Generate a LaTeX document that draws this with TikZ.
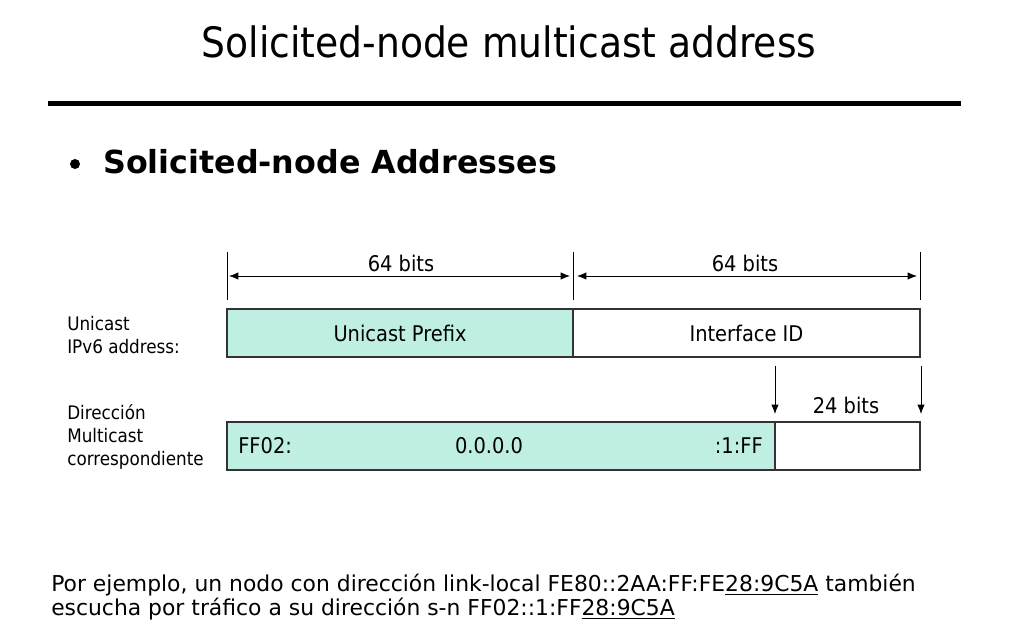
\documentclass[tikz,border=0pt]{standalone}
\usepackage{fontspec}
\setmainfont{DejaVu Sans}
\newfontfamily\tah{DejaVu Sans Condensed}
\usetikzlibrary{arrows.meta}
\definecolor{tealfill}{RGB}{190,239,226}
\begin{document}
\begin{tikzpicture}[x=0.75pt,y=-0.75pt,
  field/.style={draw=black!80,line width=0.8pt,minimum height=36pt,inner sep=0pt,font=\tah\fontsize{16.2}{18}\selectfont},
  lbl/.style={font=\tah\fontsize{14}{17.25}\selectfont,align=left,anchor=west,inner sep=0pt},
  bits/.style={font=\tah\fontsize{16.2}{18}\selectfont,inner sep=0pt},
  tick/.style={line width=0.6pt},
  dim/.style={line width=0.6pt,{Latex[length=7pt,width=5.5pt]}-{Latex[length=7pt,width=5.5pt]}},
  down/.style={line width=0.6pt,-{Latex[length=7pt,width=5.5pt]}}]
\useasboundingbox (0,0) rectangle (1022,630);
% title
\node[font=\tah\fontsize{31.4}{34}\selectfont,inner sep=0pt] (title) at (509,42) {Solicited-node multicast address};
\draw[line width=4pt] (48,103.5) -- (961,103.5);
\node[circle,fill=black,inner sep=0pt,minimum size=7.5pt] (bul) at (75,164) {};
\node[font=\bfseries\fontsize{23.8}{26}\selectfont,inner sep=0pt,anchor=west] (sub) at (103,162) {Solicited-node Addresses};
% ticks
\coordinate (t1a) at (227,252); \coordinate (t1b) at (227,300);
\coordinate (t2a) at (573,252); \coordinate (t2b) at (573,300);
\coordinate (t3a) at (920,252); \coordinate (t3b) at (920,300);
\draw[tick] (t1a) -- (t1b);
\draw[tick] (t2a) -- (t2b);
\draw[tick] (t3a) -- (t3b);
\coordinate (d1a) at (229,276); \coordinate (d1b) at (570,276);
\coordinate (d2a) at (577,276); \coordinate (d2b) at (917,276);
\draw[dim] (d1a) -- (d1b);
\draw[dim] (d2a) -- (d2b);
\node[bits] (b1) at (401,263) {64 bits};
\node[bits] (b2) at (745,263) {64 bits};
% top boxes
\node[field,fill=tealfill,minimum width=259.5pt] (pre) at (400,333) {Unicast Prefix};
\node[field,fill=white,minimum width=260.25pt] (iid) at (746.5,333) {Interface ID};
\node[lbl] (l1) at (67,335) {Unicast\\IPv6 address:};
% down arrows
\coordinate (a1a) at (775,366); \coordinate (a1b) at (775,414);
\coordinate (a2a) at (921,366); \coordinate (a2b) at (921,414);
\draw[down] (a1a) -- (a1b);
\draw[down] (a2a) -- (a2b);
\node[bits] (b3) at (846,405) {24 bits};
% bottom boxes
\node[field,fill=tealfill,minimum width=411pt] (mc) at (501,446) {};
\node[field,fill=white,minimum width=108.75pt] (low) at (847.5,446) {};
\node[bits,anchor=west] (ff02) at (238,446) {FF02:};
\node[bits] (zero) at (489,446) {0.0.0.0};
\node[bits,anchor=east] (oneff) at (763,446) {:1:FF};
\node[lbl] (l2) at (67,437) {Dirección\\Multicast\\correspondiente};
% example text
\node[font=\fontsize{16.4}{18}\selectfont,align=left,anchor=north west,inner sep=0pt] (ex) at (51,574)
 {Por ejemplo, un nodo con dirección link-local FE80::2AA:FF:FE\underline{28:9C5A} también\\
  escucha por tráfico a su dirección s-n FF02::1:FF\underline{28:9C5A}};
\end{tikzpicture}
\end{document}
